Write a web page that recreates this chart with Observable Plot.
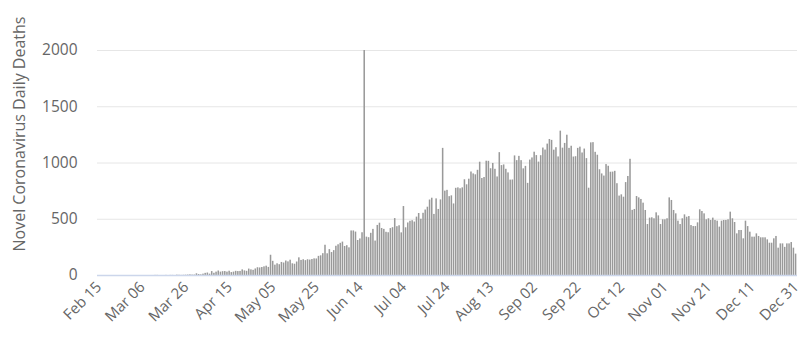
<!DOCTYPE html>
<html><head><meta charset="utf-8">
<script src="https://cdn.jsdelivr.net/npm/d3@7"></script>
<script src="https://cdn.jsdelivr.net/npm/@observablehq/plot@0.6"></script>
<style>
html,body{margin:0;padding:0;background:#fff;}
#chart{width:806px;height:340px;}
#chart svg g[aria-label="y-axis tick label"] text{font-size:15.5px;}
#chart svg g[aria-label="x-axis tick label"] text{font-size:15px;}
</style></head><body><div id="chart"></div>
<script>
// Daily deaths, Feb 15 – Dec 31, 2020 (one value per day)
const feb = [0,0,0,0,0,0,0,0,0,0,0,0,0,0,0];
const mar = [0,0,0,0,0,0,0,0,0,0,0,1,1,0,0,0,1,0,1,1,0,3,2,1,2,3,4,6,4,4,15];
const apr = [9,6,12,19,22,12,35,20,30,40,30,34,35,30,38,26,30,37,35,36,50,41,37,57,50,46,58,69,67,71];
const may = [77,83,72,180,126,92,104,96,116,111,129,121,136,104,100,120,157,134,140,132,140,137,142,148,147,170,175,194,269,193,230];
const jun = [204,221,260,273,286,297,258,265,246,396,396,386,311,325,380,2000,341,336,375,410,306,445,465,418,410,384,380,417,425,506];
const jul = [434,442,379,613,424,467,482,487,475,519,551,500,553,582,607,671,687,543,681,587,672,1130,750,757,701,708,636,775,779,771,779];
const aug = [851,806,856,920,903,895,935,1007,862,871,1016,1015,949,996,944,876,1092,977,983,944,912,848,849,1063,1021,1059,1021,948,970,819,1026];
const sep = [1045,1096,1066,1008,1065,1133,1115,1168,1209,1201,1114,1136,1054,1283,1132,1174,1247,1130,1149,1053,1056,1130,1141,1089,1124,1039,776,1179,1181,1095];
const oct = [1069,940,903,884,986,971,918,919,926,816,706,717,696,826,880,1033,579,587,702,690,676,643,578,453,510,513,504,557,530,453,495];
const nov = [495,504,690,667,578,548,483,453,504,539,518,524,444,435,435,468,584,569,548,495,504,489,510,489,483,430,483,489,489,495];
const dec = [563,504,471,370,400,400,326,483,435,385,341,341,370,347,335,335,335,317,287,287,326,347,243,281,281,250,281,281,293,243,190];
const yTicks = [0, 500, 1000, 1500, 2000];
const yTitle = "Novel Coronavirus Daily Deaths";

const values = [...feb, ...mar, ...apr, ...may, ...jun, ...jul, ...aug, ...sep, ...oct, ...nov, ...dec];
const dates = d3.utcDay.range(new Date(Date.UTC(2020, 1, 15)), new Date(Date.UTC(2021, 0, 1)));
const data = dates.map((d, i) => ({date: d, deaths: values[i]}));
const xTicks = dates.filter((d, i) => i % 20 === 0);
const font = "'Open Sans', 'DejaVu Sans', sans-serif";

const chart = Plot.plot({
  width: 806, height: 340,
  marginLeft: 97, marginRight: 9, marginTop: 50, marginBottom: 65,
  style: {fontFamily: font, fontSize: "14px", color: "#666666", background: "#ffffff", overflow: "visible"},
  x: {type: "band", domain: dates, padding: 0.3},
  y: {domain: [0, 2000]},
  marks: [
    Plot.gridY(yTicks, {stroke: "#e6e6e6", strokeOpacity: 1}),
    Plot.barY(data, {x: "date", y: "deaths", fill: "#999999"}),
    Plot.ruleY([0], {stroke: "#ccd6eb", strokeWidth: 1.5}),
    Plot.axisY(yTicks, {tickSize: 0, tickPadding: 20, label: null, fill: "#666666", tickFormat: d3.format("d")}),
    Plot.axisX(xTicks, {tickSize: 0, tickRotate: -45, tickPadding: 9, label: null, fill: "#666666",
      tickFormat: d3.utcFormat("%b %d")})
  ]
});
d3.select(chart).append("text")
  .attr("transform", "translate(18.5,134) rotate(-90)")
  .attr("text-anchor", "middle")
  .attr("dominant-baseline", "central")
  .attr("fill", "#666666")
  .attr("font-size", 16)
  .attr("font-family", font)
  .text(yTitle);
document.getElementById("chart").appendChild(chart);
</script>
</body></html>
